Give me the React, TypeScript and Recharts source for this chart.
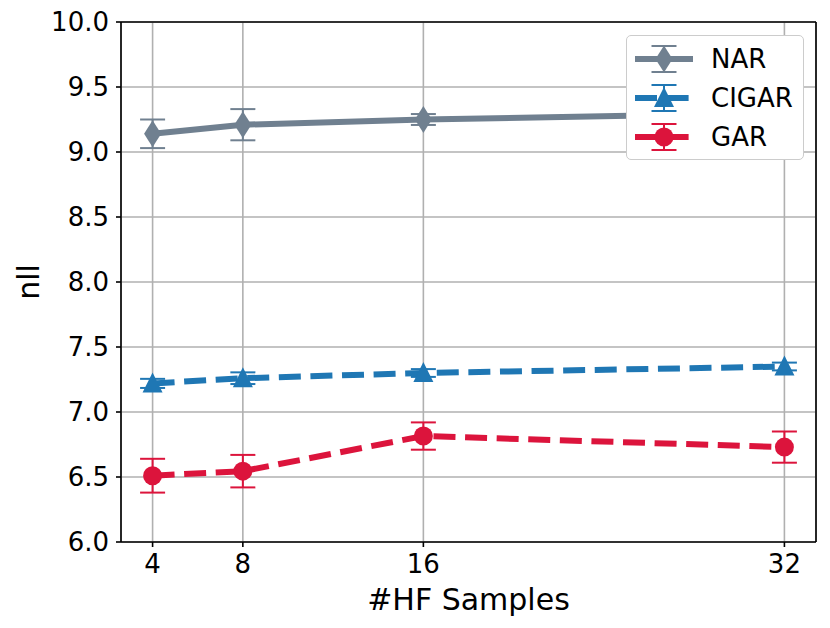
import { ComposedChart, Line, XAxis, YAxis, CartesianGrid, ErrorBar, ReferenceLine } from 'recharts';

const hfSamples = [4, 8, 16, 32];
const narMean = [9.14, 9.21, 9.25, 9.3];
const narErr = [0.11, 0.12, 0.042, 0.05];
const cigarMean = [7.22, 7.26, 7.3, 7.35];
const cigarErr = [0.035, 0.045, 0.03, 0.03];
const garMean = [6.51, 6.545, 6.815, 6.73];
const garErr = [0.13, 0.125, 0.105, 0.12];

const xTicks = [4, 8, 16, 32];
const yTicks = [6, 6.5, 7, 7.5, 8, 8.5, 9, 9.5, 10];

const NAR_COLOR = '#708090';
const CIGAR_COLOR = '#1f77b4';
const GAR_COLOR = '#dc143c';
const FONT = '"DejaVu Sans", sans-serif';
const DASH = '22 9.6';

const data = hfSamples.map((x, i) => ({
  x,
  nar: narMean[i],
  narErr: narErr[i],
  cigar: cigarMean[i],
  cigarErr: cigarErr[i],
  gar: garMean[i],
  garErr: garErr[i],
}));

function diamond(cx: number, cy: number, color: string, key?: any) {
  return (
    <path
      key={key}
      d={`M${cx},${cy - 13.5} L${cx + 8.5},${cy} L${cx},${cy + 13.5} L${cx - 8.5},${cy} Z`}
      fill={color}
    />
  );
}

function triangle(cx: number, cy: number, color: string, key?: any) {
  return (
    <path
      key={key}
      d={`M${cx},${cy - 11} L${cx + 10},${cy + 9} L${cx - 10},${cy + 9} Z`}
      fill={color}
    />
  );
}

function circle(cx: number, cy: number, color: string, key?: any) {
  return <circle key={key} cx={cx} cy={cy} r={9.5} fill={color} />;
}

const legendItems = [
  { name: 'NAR', color: NAR_COLOR, dash: undefined, marker: diamond },
  { name: 'CIGAR', color: CIGAR_COLOR, dash: DASH, marker: triangle },
  { name: 'GAR', color: GAR_COLOR, dash: DASH, marker: circle },
];

function LegendBox() {
  return (
    <div
      style={{
        position: 'absolute',
        left: 626,
        top: 35,
        background: '#fff',
        border: '1.5px solid #cccccc',
        borderRadius: 5,
        width: 178,
        height: 125,
        boxSizing: 'border-box',
        paddingTop: 3,
      }}
    >
      {legendItems.map((it) => (
        <div key={it.name} style={{ display: 'flex', alignItems: 'center', height: 39 }}>
          <svg width={80} height={36} style={{ marginLeft: 6 }}>
            <line x1={2} y1={18} x2={60} y2={18} stroke={it.color} strokeWidth={6} strokeDasharray={it.dash} />
            <line x1={31} y1={5} x2={31} y2={31} stroke={it.color} strokeWidth={2} />
            <line x1={18.5} y1={5} x2={43.5} y2={5} stroke={it.color} strokeWidth={2} />
            <line x1={18.5} y1={31} x2={43.5} y2={31} stroke={it.color} strokeWidth={2} />
            {it.marker(31, 18, it.color)}
          </svg>
          <span style={{ fontFamily: FONT, fontSize: 26, color: '#000', marginLeft: -2 }}>{it.name}</span>
        </div>
      ))}
    </div>
  );
}

export default function App() {
  return (
    <div style={{ position: 'absolute', left: 0, top: 0, width: 830, height: 628, background: '#fff' }}>
      <ComposedChart
        width={830}
        height={628}
        data={data}
        margin={{ top: 22, right: 14, left: 0, bottom: 0 }}
        style={{ fontFamily: FONT }}
      >
        <CartesianGrid stroke="#b0b0b0" strokeWidth={1.6} />
        <XAxis
          dataKey="x"
          type="number"
          domain={[2.6, 33.4]}
          ticks={xTicks}
          allowDataOverflow
          height={86}
          tickSize={5}
          tickMargin={8}
          stroke="#000"
          strokeWidth={1.6}
          tick={{ fill: '#000', fontSize: 26, fontFamily: FONT }}
          label={{ value: '#HF Samples', position: 'insideBottom', offset: 18, fill: '#000', fontSize: 30, fontFamily: FONT }}
        />
        <YAxis
          type="number"
          domain={[6, 10]}
          ticks={yTicks}
          width={121}
          tickSize={5}
          tickMargin={7}
          stroke="#000"
          strokeWidth={1.6}
          tickFormatter={(v: number) => v.toFixed(1)}
          tick={{ fill: '#000', fontSize: 26, fontFamily: FONT }}
          label={{
            value: 'nll',
            angle: -90,
            position: 'insideLeft',
            offset: 28,
            fill: '#000',
            fontSize: 30,
            fontFamily: FONT,
            style: { textAnchor: 'middle' },
          }}
        />
        <ReferenceLine y={10} stroke="#000" strokeWidth={1.6} />
        <ReferenceLine x={33.4} stroke="#000" strokeWidth={1.6} />
        <Line
          dataKey="nar"
          stroke={NAR_COLOR}
          strokeWidth={6}
          isAnimationActive={false}
          dot={(p: any) => diamond(p.cx, p.cy, NAR_COLOR, p.index)}
          activeDot={false}
        >
          <ErrorBar dataKey="narErr" width={12.5} strokeWidth={2} stroke={NAR_COLOR} direction="y" isAnimationActive={false} />
        </Line>
        <Line
          dataKey="cigar"
          stroke={CIGAR_COLOR}
          strokeWidth={6}
          strokeDasharray={DASH}
          isAnimationActive={false}
          dot={(p: any) => triangle(p.cx, p.cy, CIGAR_COLOR, p.index)}
          activeDot={false}
        >
          <ErrorBar dataKey="cigarErr" width={12.5} strokeWidth={2} stroke={CIGAR_COLOR} direction="y" isAnimationActive={false} />
        </Line>
        <Line
          dataKey="gar"
          stroke={GAR_COLOR}
          strokeWidth={6}
          strokeDasharray={DASH}
          isAnimationActive={false}
          dot={(p: any) => circle(p.cx, p.cy, GAR_COLOR, p.index)}
          activeDot={false}
        >
          <ErrorBar dataKey="garErr" width={12.5} strokeWidth={2} stroke={GAR_COLOR} direction="y" isAnimationActive={false} />
        </Line>
      </ComposedChart>
      <LegendBox />
    </div>
  );
}
